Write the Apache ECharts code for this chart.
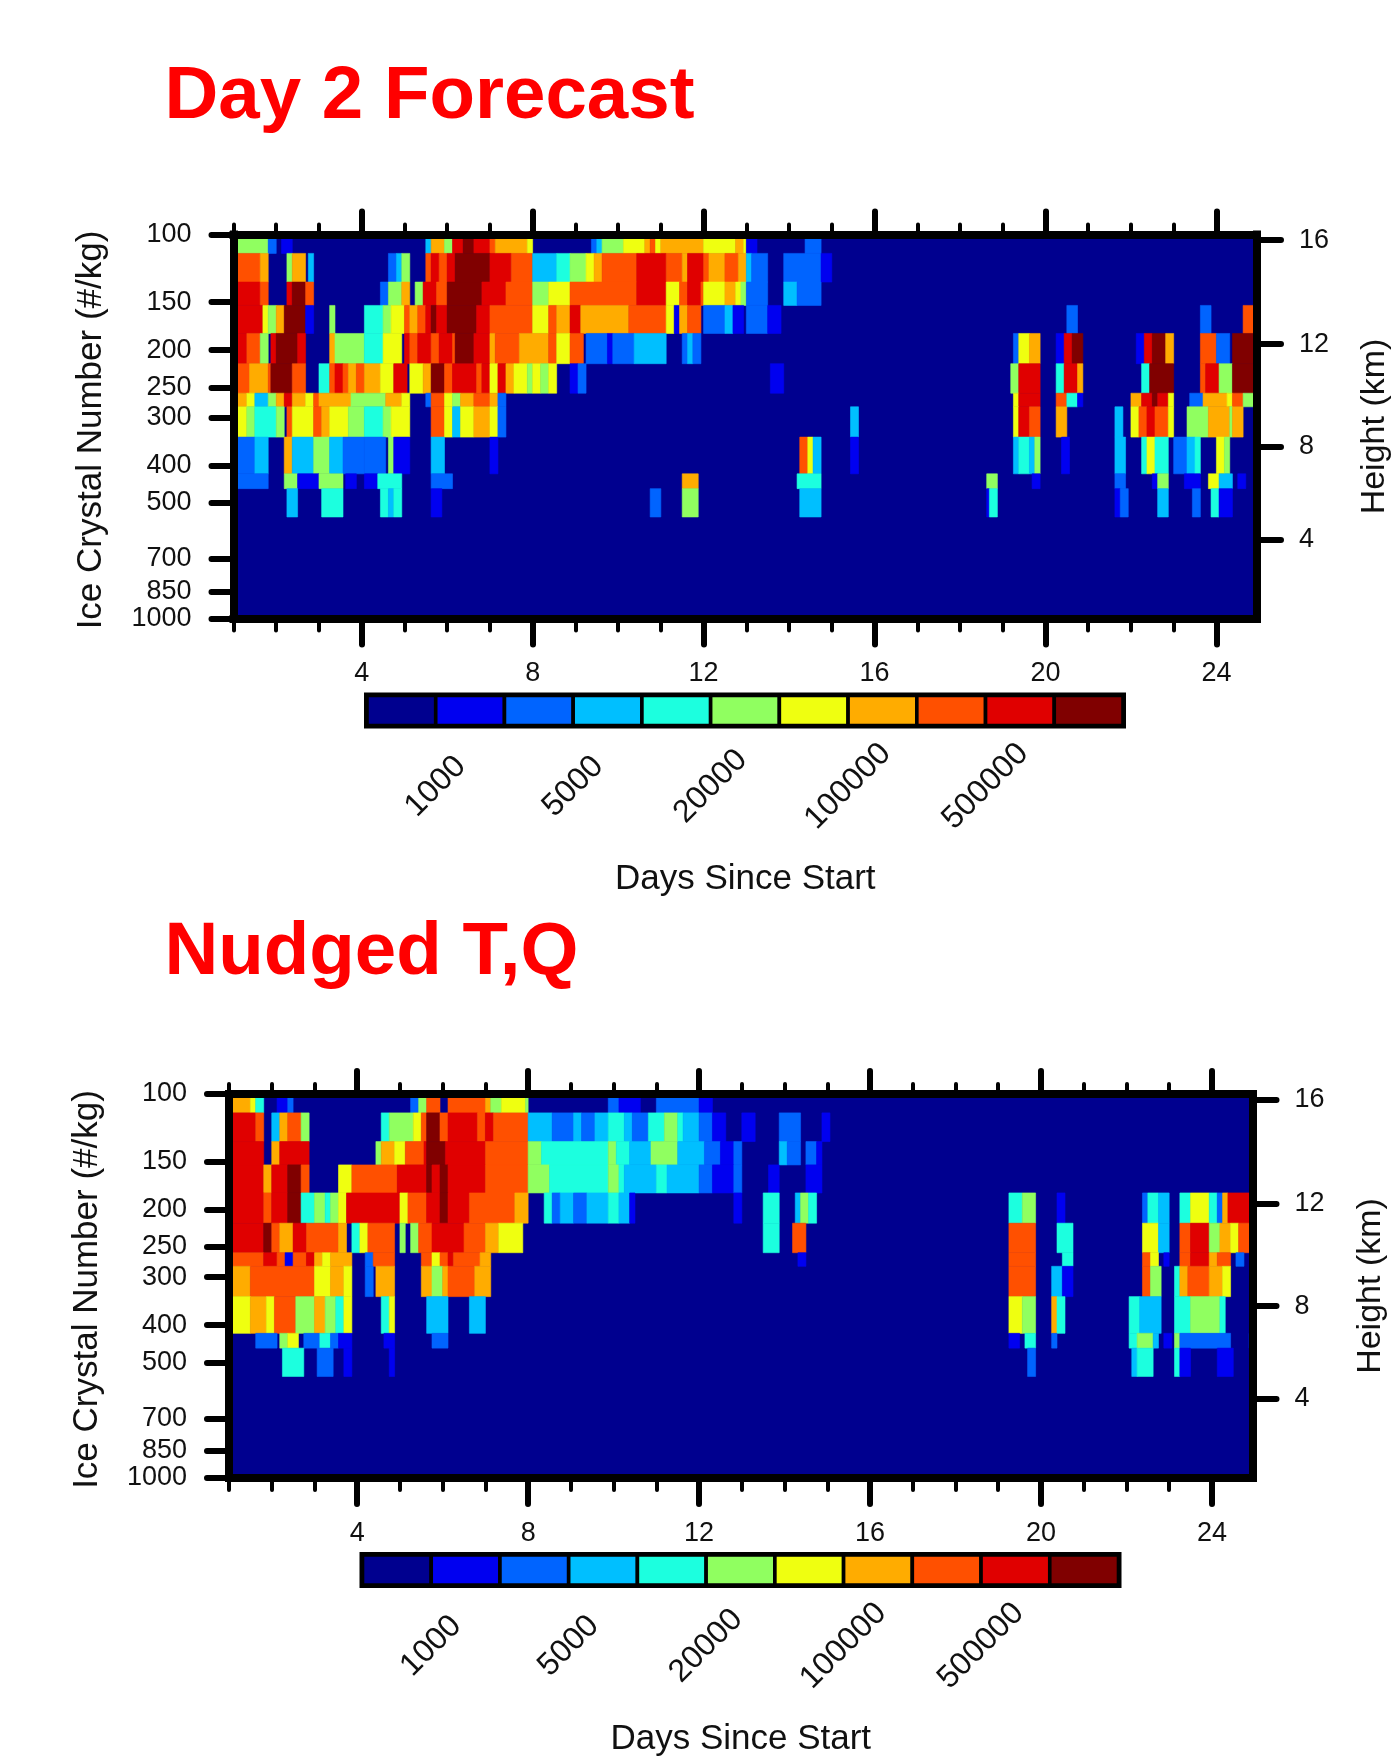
<!DOCTYPE html>
<html><head><meta charset="utf-8">
<style>html,body{margin:0;padding:0;background:#fff}#c{width:1395px;height:1760px;filter:blur(0.7px)}</style>
<script src="https://cdn.jsdelivr.net/npm/echarts@6/dist/echarts.min.js"></script>
</head><body><div id="c"></div>
<script>
// Layer interfaces (hPa, top to bottom)
const pressureBounds = [100,112,133,153,181,217,259,281,337,420,459,544,1000];
const pressureTicks = [100,150,200,250,300,400,500,700,850,1000];
const heightTicks = [16,12,8,4];
const heightPressures = [103.4,193,357,622];
const dayMajor = [4,8,12,16,20,24];
const dayMinor = [1,2,3,4,5,6,7,8,9,10,11,12,13,14,15,16,17,18,19,20,21,22,23,24];
const colorBounds = [1000,2000,5000,10000,20000,50000,100000,200000,500000,1000000];
const colorLabels = [1000,5000,20000,100000,500000];
const colors = ['#00008F','#0000F0','#0064FF','#00BFFF','#1CFFDF','#90FF60','#EFFF10','#FFAC00','#FF5000','#E00000','#800000'];

// Each run: [first 3-hourly step, last 3-hourly step, colour bin]; unlisted cells are bin 0
const forecast0 = [[0,6.5,5],[6.5,8,2],[9,11,1],[36,37,3],[37,39.5,7],[39.5,41,5],[41,43,9],[43,45,10],[45,48,9],[48,49,8],[49,55,7],[55,56,6],[67,68,2],[68,69,3],[69,73,5],[73,77,6],[77,78,7],[78,79,8],[79,80,6],[80,88,7],[88,94,6],[94,95.5,7],[95.5,96,6],[96,98,1],[107,110,2]];
const forecast1 = [[0,5,8],[5,6.5,7],[10,11,5],[11,13.5,7],[14,15,3],[29,30.5,2],[30.5,31.5,3],[31.5,33,5],[36,37,8],[37,38.5,9],[38.5,40,8],[40,41.5,9],[41.5,48,10],[48,52,9],[52,56,8],[56,60.5,3],[60.5,63,4],[63,66,5],[66,67.5,6],[67.5,69,7],[69,75.5,8],[75.5,81,9],[81,84,8],[84,85,7],[85,88,9],[88,89,8],[89,92,7],[92,94.5,8],[94.5,96,7],[96,97,3],[97,100,2],[103,110,2],[110,112,1]];
const forecast2 = [[0,5,9],[5,6.5,8],[10,11,9],[11,13.5,10],[13.5,15,8],[27.5,29,2],[29,31.5,5],[31.5,33,7],[34,35.5,5],[35.5,38,9],[38,40,8],[40,46.5,10],[46.5,51,9],[51,56,8],[56,59,5],[59,63,6],[63,75.5,8],[75.5,81,9],[81,83.5,6],[83.5,85,8],[85,87.5,9],[87.5,88,8],[88,92,6],[92,94,7],[94,95,6],[95,96,5],[96,100,2],[103,105.5,3],[105.5,110,2]];
const forecast3 = [[0,5.5,9],[5.5,6.5,6],[6.5,8,5],[8,9.5,7],[9.5,13.5,10],[13.5,15,1],[18,19,5],[24.5,28,4],[28,29.5,5],[29.5,32,6],[32,33,8],[33,34.5,7],[34.5,36,8],[36,37,9],[37,38,10],[38,40,9],[40,45.5,10],[45.5,48,9],[48,56,8],[56,59,6],[59,60.5,8],[60.5,63,7],[63,65,9],[65,74,7],[74,81,8],[81,82.5,6],[82.5,83.5,1],[83.5,85,7],[85,87.5,8],[88,92,2],[92,93.5,3],[93.5,95.5,1],[96,100,2],[100,102.5,1],[156,158,2],[181,183,2],[189,192,8]];
const forecast4 = [[0,2.5,9],[2.5,5,8],[5,6.5,5],[7,8,9],[8,12,10],[12,13.5,9],[18,19,7],[19,24.5,5],[24.5,28,4],[28,31.5,6],[32,33,9],[33,34.5,8],[34.5,37,9],[37,38.5,8],[38.5,41,9],[41,41.5,8],[41.5,45,10],[45,48,9],[48,49,7],[49,53.5,8],[53.5,59,7],[59,60.5,8],[60.5,63,6],[63,65.5,8],[66,70,2],[70,71,1],[71,75,2],[75,81,3],[84,85,2],[85,86,3],[86,87.5,2],[146,147,2],[147,149,6],[149,151,7],[154,155.5,1],[155.5,157,9],[157,159,10],[169,170.5,1],[170.5,172,9],[172,174.5,10],[174.5,176,7],[181,184,8],[184,186.5,2],[187,192,10]];
const forecast5 = [[0,3,8],[3,6.5,7],[6.5,7,8],[7,11,10],[11,13.5,8],[16,18,4],[18,19,8],[19,20.5,9],[20.5,21.5,8],[21.5,23,7],[23,24.5,8],[24.5,27.5,7],[27.5,30,6],[30,32.5,9],[33,35.5,6],[35.5,37,7],[37,39.5,10],[39.5,41,8],[41,45.5,9],[45.5,46.5,8],[46.5,48,9],[48,49.5,6],[49.5,51,9],[51,52.5,7],[52.5,55,6],[55,56,5],[56,57.5,6],[57.5,59,5],[59,60.5,6],[63,64.5,1],[64.5,66,2],[100.5,103,1],[145.5,147,5],[147,151,9],[154,155.5,4],[155.5,158,9],[158,159,7],[170,171.5,4],[171.5,176,10],[181,182,8],[182,184.5,9],[184.5,187,5],[187,192,10]];
const forecast6 = [[0,2.5,7],[2.5,4,6],[4,6.5,3],[6.5,8,5],[8,9.5,7],[9.5,11,9],[11,13.5,7],[13.5,15,6],[15,16,8],[16,22,7],[22,28.5,5],[28.5,31.5,7],[31.5,33,6],[36,37,2],[37,39.5,8],[39.5,41,6],[41,42.5,5],[42.5,45,7],[45,48,8],[48,49.5,7],[49.5,51,2],[146,147,6],[147,151,9],[154,156,8],[156,158,4],[158,159,1],[168,170,7],[170,172,9],[172,173,10],[173,175,9],[175,176,6],[179,181.5,2],[181.5,186,7],[186,187,6],[187,189,8],[189,192,5]];
const forecast7 = [[0,2.5,6],[2.5,4,5],[4,8,4],[8,9.5,5],[10,11,8],[11,15,6],[15,16.5,8],[16.5,18,7],[18,21.5,6],[21.5,24.5,5],[24.5,28,4],[28,29.5,5],[29.5,33,6],[37,39.5,8],[39.5,41,6],[41,42.5,3],[42.5,45,6],[45,48,7],[48,49.5,6],[49.5,51,2],[115.5,117,3],[146,147,6],[147,149,9],[149,151,8],[154,156,7],[165,166.5,3],[168,169.5,6],[169.5,171,8],[171,172.5,9],[172.5,175,8],[175,176,6],[178.5,182.5,5],[182.5,186.5,7],[186.5,187,5],[187,189,7],[191,192,3]];
const forecast8 = [[0,4,2],[4,6.5,3],[9.5,11,7],[11,15,3],[15,18,5],[18,20.5,3],[20.5,24.5,2],[24.5,28.5,2],[29,30,5],[30,33,1],[37,39.5,3],[48,49.5,1],[106,107.5,8],[107.5,108.5,6],[108.5,110,3],[115.5,117,1],[146,147,3],[147,149,4],[149,150,3],[150,151,5],[155,156.5,1],[165,167,3],[170,171,4],[171,172.5,6],[172.5,175,4],[176,178.5,2],[178.5,180,3],[180,181,4],[184,185.5,6],[185.5,186.5,5],[191,192,3]];
const forecast9 = [[0,6.5,2],[9.5,12,5],[12,16,1],[16,20.5,5],[21,23,1],[24.5,27,1],[27,31.5,4],[37,41,2],[84,87,7],[105.5,110,4],[141,143,5],[149.5,151,1],[165,167,2],[172,173,1],[173,175,5],[178,181,1],[182.5,184.5,6],[184.5,187,3],[188,189.5,1]];
const forecast10 = [[10,12,3],[16.5,20.5,4],[27.5,29,4],[29,30,3],[30,31.5,4],[37,39,1],[78,80,2],[84,87,5],[106,110,3],[141,141.5,1],[141.5,143,4],[165,166,1],[166,167.5,2],[173,175,3],[179.5,181,2],[183,184.5,4],[184.5,187,1]];

const nudged0 = [[0,4,7],[4,5,6],[5,6.5,4],[9,11,1],[11,12,2],[34,35.5,2],[35.5,37,5],[37,39.5,8],[41,48,8],[48,49,7],[49,51,5],[51,55.5,6],[55.5,56,5],[71,73,2],[73,77,1],[80,88,2],[88,90.5,1]];
const nudged1 = [[0,5,9],[5,6.5,8],[8,9.5,3],[9.5,11,7],[11,13.5,8],[13.5,15,5],[28.5,30,4],[30,34.5,5],[34.5,36,6],[36,37,8],[37,39.5,10],[39.5,41,8],[41,46.5,9],[46.5,48,8],[48,49.5,9],[49.5,56,8],[56,60.5,3],[60.5,64.5,2],[64.5,66,3],[66,68.5,2],[68.5,71,3],[71,74,4],[74,75.5,3],[75.5,78.5,2],[78.5,81.5,4],[81.5,84,5],[84,85,4],[85,88,3],[88,90.5,2],[90.5,93,1],[96,98.5,1],[103,107,2],[111,112.5,1]];
const nudged2 = [[0,6.5,9],[8,9.5,7],[9.5,15,9],[27.5,28.5,5],[28.5,31,7],[31,33,6],[33,36.5,8],[36.5,37,9],[37,40.5,10],[40.5,48,9],[48,56,8],[56,58.5,5],[58.5,71,4],[71,72.5,5],[72.5,75,4],[75,79,3],[79,84,5],[84,89,3],[89,92,2],[92,94.5,1],[94.5,96,2],[103,104.5,3],[104.5,107,2],[108,110,2],[110,111,1]];
const nudged3 = [[0,6.5,9],[6.5,8,7],[8,11,9],[11,13.5,10],[13.5,15,8],[20.5,23,6],[23,31.5,8],[31.5,37,9],[37,38,10],[38,39.5,9],[39.5,41,10],[41,48,9],[48,56,8],[56,60,5],[60,71,4],[71,73,5],[73,74,4],[74,80,3],[80,82,4],[82,88,3],[88,90.5,2],[90.5,94.5,1],[94.5,96,2],[101,103,1],[108,111,1]];
const nudged4 = [[0,6.5,9],[6.5,8,8],[8,11,9],[11,13.5,10],[13.5,16,4],[16,18,5],[18,19,4],[19,20.5,5],[20.5,22,6],[22,32,9],[32,33.5,6],[33.5,37,8],[37,39.5,9],[39.5,41,10],[41,45,9],[45,53.5,8],[53.5,56,7],[59,60.5,4],[60.5,62,2],[62,64.5,3],[64.5,67,2],[67,71,3],[71,73,4],[73,75,3],[75,76,1],[94.5,96,1],[100,103,4],[106,107,3],[107,108.5,5],[108.5,110,4],[146,148.5,4],[148.5,151,5],[155,156.5,1],[171,172,2],[172,174,4],[174,176,3],[178,180,4],[180,183.5,6],[183.5,185,4],[185,186,2],[186,187,7],[187,192,9]];
const nudged5 = [[0,6.5,9],[6.5,8,10],[8,9.5,8],[9.5,12,7],[12,14.5,9],[14.5,20.5,8],[20.5,22,7],[23,24.5,4],[24.5,26,6],[26,31,8],[32,33,5],[34,35.5,5],[35.5,38,8],[38,44,9],[44,48,8],[48,50.5,7],[50.5,55,6],[100,103,4],[105.5,108,8],[146,151,8],[155,158,4],[171,174,6],[174,176,3],[178,180,8],[180,183.5,9],[183.5,185.5,5],[185.5,187.5,7],[187.5,189,6],[189,192,8]];
const nudged6 = [[0,6.5,8],[6.5,9,9],[9,10.5,8],[10.5,12,1],[12,14.5,8],[14.5,16,9],[16,17.5,7],[17.5,19,6],[19,23,7],[25.5,27,2],[27,31,8],[36,38,8],[38,39.5,6],[39.5,41,8],[41,42,9],[42,47,8],[47,49,7],[106.5,108,1],[146,151,8],[156,158,4],[171,172.5,8],[172.5,174,6],[175,176,1],[178,180,8],[180,183.5,9],[183.5,185,7],[185,187.5,8],[188.5,190,2]];
const nudged7 = [[0,4,7],[4,16,8],[16,19,6],[19,21.5,7],[21.5,23,6],[25.5,27,2],[27.5,31,7],[36,38,7],[38,40,5],[40,41,7],[41,46,8],[46,49,7],[146,151,8],[154,156,3],[156,158,1],[171,172.5,8],[172.5,174.5,5],[177,178,4],[178,179.5,7],[179.5,183.5,8],[183.5,186,7],[186,187.5,6]];
const nudged8 = [[0,4,6],[4,7,7],[7,8.5,6],[8.5,12.5,8],[12.5,16,5],[16,18,7],[18,20,5],[20,21.5,4],[21.5,23,6],[28.5,30,4],[30,31,6],[37,41,3],[45,48,3],[146,148.5,6],[148.5,151,5],[154,155,7],[155,156.5,4],[168.5,170.5,4],[170.5,174.5,3],[177,180,4],[180,185.5,5],[185.5,186.5,4]];
const nudged9 = [[5,9,2],[9.5,11,5],[11,13,6],[14,17,2],[17,19,4],[19,20.5,2],[20.5,23,1],[29,31,1],[38,41,2],[146,148,1],[149,151,4],[154,155,2],[168.5,170,4],[170,173,5],[173,174,3],[175,176.5,1],[177,178,5],[178,187.5,2],[191,192,2]];
const nudged10 = [[10,14,4],[16.5,19.5,2],[21.5,23,1],[30,31,1],[149.5,151,2],[169,170,3],[170,173,4],[177,178,4],[178,180,1],[185,188,1]];

const forecastRows = [forecast0,forecast1,forecast2,forecast3,forecast4,forecast5,forecast6,forecast7,forecast8,forecast9,forecast10];
const nudgedRows = [nudged0,nudged1,nudged2,nudged3,nudged4,nudged5,nudged6,nudged7,nudged8,nudged9,nudged10];

const FONT = '"Liberation Sans", Arial, sans-serif';
const lg = Math.log10;
const chart = echarts.init(document.getElementById('c'), null, {renderer:'canvas'});

function cells(rows){
  const out = [[1,25,lg(100),lg(1000),0]];
  rows.forEach((runs,r)=>runs.forEach(([a,b,bin])=>{
    out.push([1+a/8,1+b/8,lg(pressureBounds[r]),lg(pressureBounds[r+1]),bin]);
  }));
  return out;
}
function renderCell(params,api){
  const p0 = api.coord([api.value(0),api.value(2)]);
  const p1 = api.coord([api.value(1),api.value(3)]);
  const c = colors[api.value(4)];
  return {type:'rect',shape:{x:p0[0],y:p0[1],width:p1[0]-p0[0],height:p1[1]-p0[1]},
    style:{fill:c,stroke:c,lineWidth:0.6}};
}
function renderLegend(params,api){
  const p0 = api.coord([api.value(0),0]);
  const p1 = api.coord([api.value(1),1]);
  return {type:'rect',shape:{x:p0[0],y:Math.min(p0[1],p1[1]),width:p1[0]-p0[0],height:Math.abs(p1[1]-p0[1])},
    style:{fill:colors[api.value(2)],stroke:'#000',lineWidth:3.6}};
}

const option = {
  animation:false, backgroundColor:'#ffffff',
  textStyle:{fontFamily:FONT},
  title:[], grid:[], xAxis:[], yAxis:[], series:[]
};

const frameLine = {show:true,lineStyle:{color:'#000',width:8,cap:'square'}};
const panels = [
  {name:'Day 2 Forecast', rows:forecastRows, dx:0,    dy:0,   titleTop:55},
  {name:'Nudged T,Q',     rows:nudgedRows,   dx:-4.5, dy:859.5, titleTop:911}
];

panels.forEach(pn=>{
  option.title.push({text:pn.name,left:159.5,top:pn.titleTop,
    textStyle:{color:'#FF0000',fontSize:74.5,fontWeight:'bold',fontFamily:FONT}});
  const g = option.grid.length;
  option.grid.push({left:233.5+pn.dx,top:234.5+pn.dy,width:1023.5,height:384,containLabel:false,outerBoundsMode:'none'});
  const xBase = option.xAxis.length, yBase = option.yAxis.length;
  const base = {type:'value',gridIndex:g,min:1,max:24.95,z:10,splitLine:{show:false},axisLabel:{show:false},axisTick:{show:false},axisLine:{show:false}};
  const tickStyle = w=>({color:'#000',width:w,cap:'round'});
  option.xAxis.push({...base,position:'bottom',axisLine:frameLine,
    name:'Days Since Start',nameLocation:'middle',nameGap:261,
    nameTextStyle:{fontSize:35,color:'#111',fontFamily:FONT,verticalAlign:'middle'},
    axisTick:{show:true,customValues:dayMajor,length:26,lineStyle:tickStyle(6)},
    axisLabel:{show:true,customValues:dayMajor,margin:42,fontSize:27,color:'#111',fontFamily:FONT,formatter:v=>String(v)}});
  option.xAxis.push({...base,position:'bottom',
    axisTick:{show:true,customValues:dayMinor,length:12,lineStyle:tickStyle(4)}});
  option.xAxis.push({...base,position:'top',axisLine:frameLine,
    axisTick:{show:true,customValues:dayMajor,length:23,lineStyle:tickStyle(6)}});
  option.xAxis.push({...base,position:'top',
    axisTick:{show:true,customValues:dayMinor,length:10,lineStyle:tickStyle(4)}});
  option.yAxis.push({type:'value',gridIndex:g,position:'left',inverse:true,min:2,max:3,z:10,splitLine:{show:false},
    axisLine:frameLine,
    name:'Ice Crystal Number (#/kg)',nameLocation:'middle',nameGap:142,nameRotate:90,
    nameTextStyle:{fontSize:35,color:'#111',fontFamily:FONT,verticalAlign:'middle',padding:[0,7,0,0]},
    axisTick:{show:true,customValues:pressureTicks.map(lg),length:22,lineStyle:tickStyle(6)},
    axisLabel:{show:true,customValues:pressureTicks.map(lg),margin:42,padding:[3,0,0,0],fontSize:27,color:'#111',fontFamily:FONT,
      formatter:v=>String(Math.round(Math.pow(10,v)))}});
  option.yAxis.push({type:'value',gridIndex:g,position:'right',inverse:true,min:2,max:3,z:10,splitLine:{show:false},
    axisLine:frameLine,
    name:'Height (km)',nameLocation:'middle',nameGap:118,nameRotate:90,
    nameTextStyle:{fontSize:34,color:'#111',fontFamily:FONT,verticalAlign:'middle'},
    axisTick:{show:true,customValues:heightPressures.map(lg),length:24,lineStyle:tickStyle(6)},
    axisLabel:{show:true,customValues:heightPressures.map(lg),margin:42,padding:[3,0,0,0],fontSize:27,color:'#111',fontFamily:FONT,
      formatter:v=>{let b=0;heightPressures.forEach((p,i)=>{if(Math.abs(lg(p)-v)<Math.abs(lg(heightPressures[b])-v))b=i;});return String(heightTicks[b]);}}});
  option.series.push({type:'custom',name:pn.name,xAxisIndex:xBase,yAxisIndex:yBase,z:2,silent:true,
    renderItem:renderCell,data:cells(pn.rows),encode:{x:[0,1],y:[2,3]},clip:true});

  // colour bar
  const g2 = option.grid.length;
  option.grid.push({left:367+pn.dx,top:695.5+pn.dy,width:756,height:30,show:true,borderColor:'#000',borderWidth:6,backgroundColor:'transparent',outerBoundsMode:'none'});
  const xi = option.xAxis.length, yi = option.yAxis.length;
  const labelPos = colorLabels.map(v=>colorBounds.indexOf(v)+1);
  option.xAxis.push({type:'value',gridIndex:g2,min:0,max:colors.length,position:'bottom',z:10,
    splitLine:{show:false},axisLine:{show:false},axisTick:{show:false},
    axisLabel:{show:true,customValues:labelPos,rotate:45,align:'center',verticalAlign:'middle',margin:61,
      fontSize:32,color:'#111',fontFamily:FONT,
      formatter:v=>String(colorBounds[Math.round(v)-1])}});
  option.yAxis.push({type:'value',gridIndex:g2,min:0,max:1,show:false});
  option.series.push({type:'custom',xAxisIndex:xi,yAxisIndex:yi,z:3,silent:true,
    renderItem:renderLegend,data:colors.map((c,i)=>[i,i+1,i]),encode:{x:[0,1]},clip:false});
});
chart.setOption(option);
</script>
</body></html>
